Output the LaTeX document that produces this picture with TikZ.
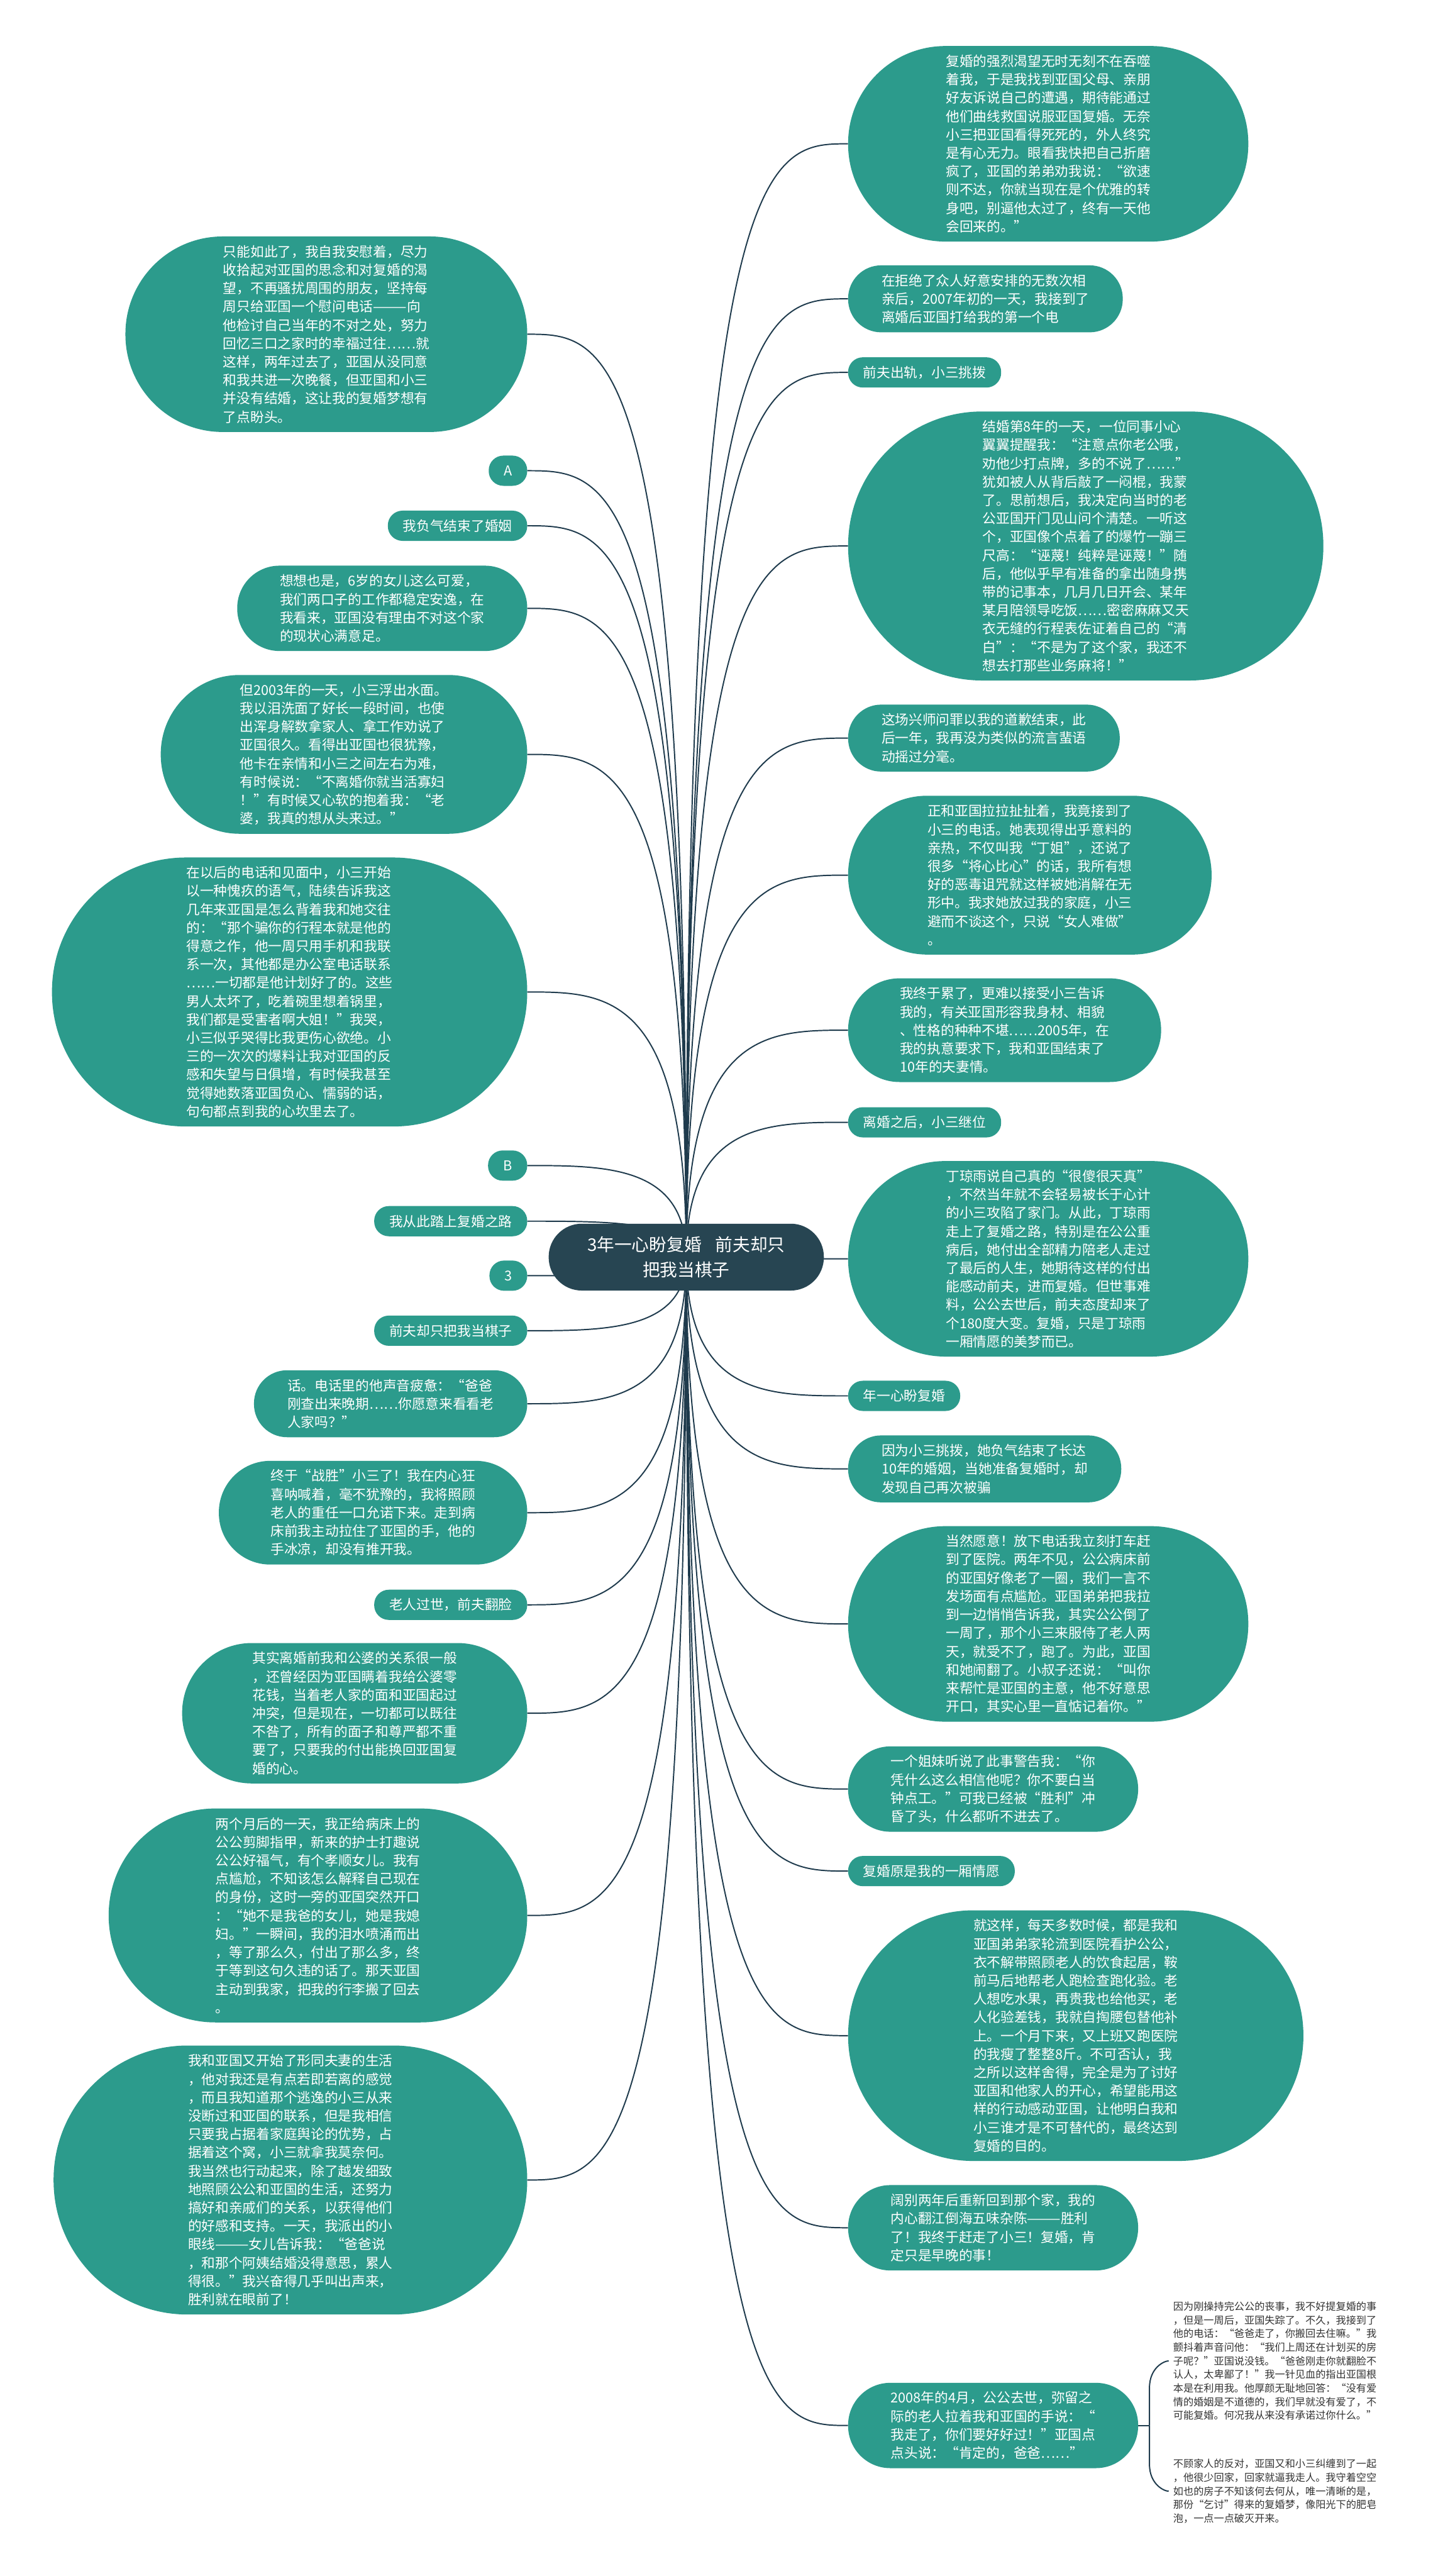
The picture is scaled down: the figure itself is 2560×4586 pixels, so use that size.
\documentclass[tikz,border=0pt]{standalone}
\usepackage{fontspec}
\setmainfont{Noto Sans CJK SC}
\usetikzlibrary{calc}
\pgfdeclarelayer{background}
\pgfsetlayers{background,main}
\definecolor{tealbox}{HTML}{2C9B8C}
\definecolor{rootc}{HTML}{274552}
\definecolor{linec}{HTML}{1F3B4D}
\definecolor{smalltxt}{HTML}{333333}
\tikzset{
  nb/.style={rectangle, fill=tealbox, text=white, align=left, inner ysep=0pt,
    font=\fontsize{24.3pt}{32.7pt}\selectfont,
    minimum height={32.7*#1+21.1},
    rounded corners={16.35*#1+9.8},
    inner xsep={16.35*#1+10.55}},
  rootbox/.style={rectangle, fill=rootc, text=white, align=center, inner ysep=0pt,
    inner xsep=59.5pt, minimum height=119pt, minimum width=490pt, rounded corners=59pt,
    font=\fontsize{31pt}{44pt}\selectfont},
  plaintext/.style={align=left, text=smalltxt, inner xsep=8pt, inner ysep=2pt,
    font=\fontsize{18.1pt}{24.3pt}\selectfont},
  conn/.style={draw=linec, line width=2.2pt}
}
\begin{document}
\begin{tikzpicture}[x=1pt,y=-1pt]

\node[rootbox] (root) at (1222,2238) {3年一心盼复婚\hspace{0.8em}前夫却只\\把我当棋子};

% right column
\node[nb=10, anchor=west] (r1) at (1510,256) {复婚的强烈渴望无时无刻不在吞噬\\
着我，于是我找到亚国父母、亲朋\\
好友诉说自己的遭遇，期待能通过\\
他们曲线救国说服亚国复婚。无奈\\
小三把亚国看得死死的，外人终究\\
是有心无力。眼看我快把自己折磨\\
疯了，亚国的弟弟劝我说：“欲速\\
则不达，你就当现在是个优雅的转\\
身吧，别逼他太过了，终有一天他\\
会回来的。”};
\node[nb=3, anchor=west] (r2) at (1510,532) {在拒绝了众人好意安排的无数次相\\
亲后，2007年初的一天，我接到了\\
离婚后亚国打给我的第一个电};
\node[nb=1, anchor=west] (r3) at (1510,663) {前夫出轨，小三挑拨};
\node[nb=14, anchor=west] (r4) at (1510,972) {结婚第8年的一天，一位同事小心\\
翼翼提醒我：“注意点你老公哦，\\
劝他少打点牌，多的不说了……”\\
犹如被人从背后敲了一闷棍，我蒙\\
了。思前想后，我决定向当时的老\\
公亚国开门见山问个清楚。一听这\\
个，亚国像个点着了的爆竹一蹦三\\
尺高：“诬蔑！纯粹是诬蔑！”随\\
后，他似乎早有准备的拿出随身携\\
带的记事本，几月几日开会、某年\\
某月陪领导吃饭……密密麻麻又天\\
衣无缝的行程表佐证着自己的“清\\
白”：“不是为了这个家，我还不\\
想去打那些业务麻将！”};
\node[nb=3, anchor=west] (r5) at (1510,1314) {这场兴师问罪以我的道歉结束，此\\
后一年，我再没为类似的流言蜚语\\
动摇过分毫。};
\node[nb=8, anchor=west] (r6) at (1510,1558) {正和亚国拉拉扯扯着，我竟接到了\\
小三的电话。她表现得出乎意料的\\
亲热，不仅叫我“丁姐”，还说了\\
很多“将心比心”的话，我所有想\\
好的恶毒诅咒就这样被她消解在无\\
形中。我求她放过我的家庭，小三\\
避而不谈这个，只说“女人难做”\\
。};
\node[nb=5, anchor=west] (r7) at (1510,1834) {我终于累了，更难以接受小三告诉\\
我的，有关亚国形容我身材、相貌\\
、性格的种种不堪……2005年，在\\
我的执意要求下，我和亚国结束了\\
10年的夫妻情。};
\node[nb=1, anchor=west] (r8) at (1510,1998) {离婚之后，小三继位};
\node[nb=10, anchor=west] (r9) at (1510,2241) {丁琼雨说自己真的“很傻很天真”\\
，不然当年就不会轻易被长于心计\\
的小三攻陷了家门。从此，丁琼雨\\
走上了复婚之路，特别是在公公重\\
病后，她付出全部精力陪老人走过\\
了最后的人生，她期待这样的付出\\
能感动前夫，进而复婚。但世事难\\
料，公公去世后，前夫态度却来了\\
个180度大变。复婚，只是丁琼雨\\
一厢情愿的美梦而已。};
\node[nb=1, anchor=west] (r10) at (1510,2485) {年一心盼复婚};
\node[nb=3, anchor=west] (r11) at (1510,2615) {因为小三挑拨，她负气结束了长达\\
10年的婚姻，当她准备复婚时，却\\
发现自己再次被骗};
\node[nb=10, anchor=west] (r12) at (1510,2891) {当然愿意！放下电话我立刻打车赶\\
到了医院。两年不见，公公病床前\\
的亚国好像老了一圈，我们一言不\\
发场面有点尴尬。亚国弟弟把我拉\\
到一边悄悄告诉我，其实公公倒了\\
一周了，那个小三来服侍了老人两\\
天，就受不了，跑了。为此，亚国\\
和她闹翻了。小叔子还说：“叫你\\
来帮忙是亚国的主意，他不好意思\\
开口，其实心里一直惦记着你。”};
\node[nb=4, anchor=west] (r13) at (1510,3185) {一个姐妹听说了此事警告我：“你\\
凭什么这么相信他呢？你不要白当\\
钟点工。”可我已经被“胜利”冲\\
昏了头，什么都听不进去了。};
\node[nb=1, anchor=west] (r14) at (1510,3331) {复婚原是我的一厢情愿};
\node[nb=13, anchor=west] (r15) at (1510,3624) {就这样，每天多数时候，都是我和\\
亚国弟弟家轮流到医院看护公公，\\
衣不解带照顾老人的饮食起居，鞍\\
前马后地帮老人跑检查跑化验。老\\
人想吃水果，再贵我也给他买，老\\
人化验差钱，我就自掏腰包替他补\\
上。一个月下来，又上班又跑医院\\
的我瘦了整整8斤。不可否认，我\\
之所以这样舍得，完全是为了讨好\\
亚国和他家人的开心，希望能用这\\
样的行动感动亚国，让他明白我和\\
小三谁才是不可替代的，最终达到\\
复婚的目的。};
\node[nb=4, anchor=west] (r16) at (1510,3966) {阔别两年后重新回到那个家，我的\\
内心翻江倒海五味杂陈———胜利\\
了！我终于赶走了小三！复婚，肯\\
定只是早晚的事！};
\node[nb=4, anchor=west] (r17) at (1510,4318) {2008年的4月，公公去世，弥留之\\
际的老人拉着我和亚国的手说：“\\
我走了，你们要好好过！”亚国点\\
点头说：“肯定的，爸爸……”};

% left column
\node[nb=10, anchor=east] (l1) at (939,595) {只能如此了，我自我安慰着，尽力\\
收拾起对亚国的思念和对复婚的渴\\
望，不再骚扰周围的朋友，坚持每\\
周只给亚国一个慰问电话———向\\
他检讨自己当年的不对之处，努力\\
回忆三口之家时的幸福过往……就\\
这样，两年过去了，亚国从没同意\\
和我共进一次晚餐，但亚国和小三\\
并没有结婚，这让我的复婚梦想有\\
了点盼头。};
\node[nb=1, anchor=east] (l2) at (939,838) {A};
\node[nb=1, anchor=east] (l3) at (939,936) {我负气结束了婚姻};
\node[nb=4, anchor=east] (l4) at (939,1083) {想想也是，6岁的女儿这么可爱，\\
我们两口子的工作都稳定安逸，在\\
我看来，亚国没有理由不对这个家\\
的现状心满意足。};
\node[nb=8, anchor=east] (l5) at (939,1343) {但2003年的一天，小三浮出水面。\\
我以泪洗面了好长一段时间，也使\\
出浑身解数拿家人、拿工作劝说了\\
亚国很久。看得出亚国也很犹豫，\\
他卡在亲情和小三之间左右为难，\\
有时候说：“不离婚你就当活寡妇\\
！”有时候又心软的抱着我：“老\\
婆，我真的想从头来过。”};
\node[nb=14, anchor=east] (l6) at (939,1766) {在以后的电话和见面中，小三开始\\
以一种愧疚的语气，陆续告诉我这\\
几年来亚国是怎么背着我和她交往\\
的：“那个骗你的行程本就是他的\\
得意之作，他一周只用手机和我联\\
系一次，其他都是办公室电话联系\\
……一切都是他计划好了的。这些\\
男人太坏了，吃着碗里想着锅里，\\
我们都是受害者啊大姐！”我哭，\\
小三似乎哭得比我更伤心欲绝。小\\
三的一次次的爆料让我对亚国的反\\
感和失望与日俱增，有时候我甚至\\
觉得她数落亚国负心、懦弱的话，\\
句句都点到我的心坎里去了。};
\node[nb=1, anchor=east] (l7) at (939,2075) {B};
\node[nb=1, anchor=east] (l8) at (939,2174) {我从此踏上复婚之路};
\node[nb=1, anchor=east] (l9) at (939,2271) {3};
\node[nb=1, anchor=east] (l10) at (939,2369) {前夫却只把我当棋子};
\node[nb=3, anchor=east] (l11) at (939,2499) {话。电话里的他声音疲惫：“爸爸\\
刚查出来晚期……你愿意来看看老\\
人家吗？”};
\node[nb=5, anchor=east] (l12) at (939,2693) {终于“战胜”小三了！我在内心狂\\
喜呐喊着，毫不犹豫的，我将照顾\\
老人的重任一口允诺下来。走到病\\
床前我主动拉住了亚国的手，他的\\
手冰凉，却没有推开我。};
\node[nb=1, anchor=east] (l13) at (939,2857) {老人过世，前夫翻脸};
\node[nb=7, anchor=east] (l14) at (939,3050) {其实离婚前我和公婆的关系很一般\\
，还曾经因为亚国瞒着我给公婆零\\
花钱，当着老人家的面和亚国起过\\
冲突，但是现在，一切都可以既往\\
不咎了，所有的面子和尊严都不重\\
要了，只要我的付出能换回亚国复\\
婚的心。};
\node[nb=11, anchor=east] (l15) at (939,3410) {两个月后的一天，我正给病床上的\\
公公剪脚指甲，新来的护士打趣说\\
公公好福气，有个孝顺女儿。我有\\
点尴尬，不知该怎么解释自己现在\\
的身份，这时一旁的亚国突然开口\\
：“她不是我爸的女儿，她是我媳\\
妇。”一瞬间，我的泪水喷涌而出\\
，等了那么久，付出了那么多，终\\
于等到这句久违的话了。那天亚国\\
主动到我家，把我的行李搬了回去\\
。};
\node[nb=14, anchor=east] (l16) at (939,3881) {我和亚国又开始了形同夫妻的生活\\
，他对我还是有点若即若离的感觉\\
，而且我知道那个逃逸的小三从来\\
没断过和亚国的联系，但是我相信\\
只要我占据着家庭舆论的优势，占\\
据着这个窝，小三就拿我莫奈何。\\
我当然也行动起来，除了越发细致\\
地照顾公公和亚国的生活，还努力\\
搞好和亲戚们的关系，以获得他们\\
的好感和支持。一天，我派出的小\\
眼线———女儿告诉我：“爸爸说\\
，和那个阿姨结婚没得意思，累人\\
得很。”我兴奋得几乎叫出声来，\\
胜利就在眼前了！};

% bottom right children
\node[plaintext, anchor=west] (c1) at (2081,4203) {因为刚操持完公公的丧事，我不好提复婚的事\\
，但是一周后，亚国失踪了。不久，我接到了\\
他的电话：“爸爸走了，你搬回去住嘛。”我\\
颤抖着声音问他：“我们上周还在计划买的房\\
子呢？”亚国说没钱。“爸爸刚走你就翻脸不\\
认人，太卑鄙了！”我一针见血的指出亚国根\\
本是在利用我。他厚颜无耻地回答：“没有爱\\
情的婚姻是不道德的，我们早就没有爱了，不\\
可能复婚。何况我从来没有承诺过你什么。”};
\node[plaintext, anchor=west] (c2) at (2081,4435) {不顾家人的反对，亚国又和小三纠缠到了一起\\
，他很少回家，回家就逼我走人。我守着空空\\
如也的房子不知该何去何从，唯一清晰的是，\\
那份“乞讨”得来的复婚梦，像阳光下的肥皂\\
泡，一点一点破灭开来。};

\begin{pgfonlayer}{background}
\fill[white] (0,0) rectangle (2560,4586);
\foreach \i in {1,...,17}{
  \draw[conn] (root.center) .. controls (root.center |- r\i.west) and ($(root.center |- r\i.west)!0.5!(r\i.west)$) .. (r\i.west);
}
\foreach \i in {1,...,16}{
  \draw[conn] (root.center) .. controls (root.center |- l\i.east) and ($(root.center |- l\i.east)!0.5!(l\i.east)$) .. (l\i.east);
}
\coordinate (br) at ($(r17.east)+(20,0)$);
\draw[conn] (r17.east) -- (br);
\draw[conn] (br) -- ($(br |- c1.west)+(0,48)$) .. controls ($(br |- c1.west)+(0,12)$) and ($(c1.west)+(-8,0)$) .. (c1.west);
\draw[conn] (br) -- ($(br |- c2.west)+(0,-48)$) .. controls ($(br |- c2.west)+(0,-12)$) and ($(c2.west)+(-8,0)$) .. (c2.west);
\end{pgfonlayer}
\end{tikzpicture}
\end{document}
